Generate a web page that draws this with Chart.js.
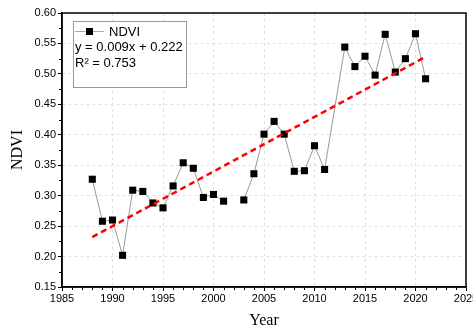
<!DOCTYPE html>
<html lang="en">
<head>
    <meta charset="UTF-8">
    <title>NDVI trend</title>
    <script src="https://cdn.jsdelivr.net/npm/chart.js"></script>
    <style>
        body { margin: 0; padding: 0; overflow: hidden; background: #fff; }
        #wrap { width: 490px; height: 329px; }
    </style>
</head>
<body>
    <div id="wrap"><canvas id="ndviChart"></canvas></div>

    <script>
        // values (2002 missing, 2012 absent)
        const years = [1988, 1989, 1990, 1991, 1992, 1993, 1994, 1995, 1996, 1997, 1998, 1999, 2000, 2001, 2002,
                       2003, 2004, 2005, 2006, 2007, 2008, 2009, 2010, 2011, 2013, 2014, 2015, 2016, 2017, 2018, 2019, 2020, 2021];
        const ndvi = [0.327, 0.258, 0.260, 0.202, 0.309, 0.307, 0.288, 0.280, 0.316, 0.354, 0.345, 0.297, 0.302, 0.291, null,
                      0.293, 0.336, 0.401, 0.422, 0.401, 0.340, 0.341, 0.382, 0.343, 0.544, 0.512, 0.529, 0.498, 0.565, 0.503, 0.525, 0.566, 0.492];
        const trendYears = [1988, 2021];
        const trendValues = [0.232, 0.528];
        const legendLines = ['y = 0.009x + 0.222', 'R\u00b2 = 0.753'];

        const serif = '"Liberation Serif", "Times New Roman", serif';
        const sans = '"Liberation Sans", Arial, sans-serif';

        const frame = {
            id: 'frame',
            afterDraw(chart) {
                const ctx = chart.ctx, a = chart.chartArea;
                const x = chart.scales.x, y = chart.scales.y;
                ctx.save();
                ctx.strokeStyle = '#000';
                ctx.lineWidth = 1.5;
                ctx.strokeRect(a.left, a.top, a.right - a.left, a.bottom - a.top);
                // minor ticks
                ctx.lineWidth = 1;
                ctx.beginPath();
                for (let yr = 1986; yr < 2025; yr++) {
                    if (yr % 5 === 0) continue;
                    const px = Math.round(x.getPixelForValue(yr)) + 0.5;
                    ctx.moveTo(px, a.bottom); ctx.lineTo(px, a.bottom + 3);
                }
                for (let v = 0.175; v < 0.6; v += 0.05) {
                    const py = Math.round(y.getPixelForValue(v)) + 0.5;
                    ctx.moveTo(a.left, py); ctx.lineTo(a.left - 3, py);
                }
                ctx.stroke();

                // legend box
                const bx = a.left + 11, by = a.top + 8, bw = 113, bh = 66;
                ctx.fillStyle = '#fff';
                ctx.fillRect(bx, by, bw, bh);
                ctx.strokeStyle = '#999';
                ctx.lineWidth = 1;
                ctx.strokeRect(bx + 0.5, by + 0.5, bw, bh);
                ctx.strokeStyle = '#aaa';
                ctx.beginPath();
                ctx.moveTo(bx + 2, by + 10.5); ctx.lineTo(bx + 31, by + 10.5);
                ctx.stroke();
                ctx.fillStyle = '#000';
                ctx.fillRect(bx + 13, by + 7, 7, 7);
                ctx.font = '13px ' + sans;
                ctx.textBaseline = 'middle';
                ctx.fillText('NDVI', bx + 36, by + 11);
                ctx.fillText(legendLines[0], bx + 2, by + 26);
                ctx.fillText(legendLines[1], bx + 2, by + 42);
                ctx.restore();
            }
        };

        const ctx = document.getElementById('ndviChart').getContext('2d');
        new Chart(ctx, {
            type: 'line',
            data: {
                datasets: [
                    {
                        label: 'NDVI',
                        data: years.map((yr, i) => ({ x: yr, y: ndvi[i] })),
                        borderColor: '#999',
                        borderWidth: 1,
                        pointStyle: 'rect',
                        pointRadius: 5,
                        pointBackgroundColor: '#000',
                        pointBorderColor: '#000',
                        pointBorderWidth: 0,
                        spanGaps: false,
                        tension: 0,
                        order: 2
                    },
                    {
                        label: 'Linear fit',
                        data: trendYears.map((yr, i) => ({ x: yr, y: trendValues[i] })),
                        borderColor: '#ff0000',
                        borderWidth: 2.5,
                        borderDash: [6, 4],
                        pointRadius: 0,
                        order: 1
                    }
                ]
            },
            options: {
                responsive: true,
                maintainAspectRatio: false,
                animation: false,
                layout: { padding: { top: 13, right: 24, left: 0, bottom: 0 } },
                plugins: { legend: { display: false }, tooltip: { enabled: false } },
                scales: {
                    x: {
                        type: 'linear',
                        min: 1985, max: 2025,
                        ticks: { stepSize: 5, color: '#000', font: { family: sans, size: 11 }, padding: 1, maxRotation: 0,
                                 callback: v => String(v) },
                        grid: { color: '#e0e0e0', tickColor: '#000', tickLength: 4, drawTicks: true },
                        border: { display: true, color: '#000', width: 1.5, dash: [3, 3] },
                        title: { display: true, text: 'Year', font: { family: serif, size: 16, lineHeight: 1 }, color: '#000', padding: 0 },
                        afterFit: s => { s.height = 42; }
                    },
                    y: {
                        min: 0.15, max: 0.60,
                        ticks: { stepSize: 0.05, color: '#000', font: { family: sans, size: 11 }, padding: 2,
                                 callback: v => v.toFixed(2) },
                        grid: { color: '#e0e0e0', tickColor: '#000', tickLength: 4 },
                        border: { display: true, color: '#000', width: 1.5, dash: [3, 3] },
                        title: { display: true, text: 'NDVI', font: { family: serif, size: 16, lineHeight: 1.2 }, color: '#000', padding: { top: 8, bottom: 0 } },
                        afterFit: s => { s.width = 62; }
                    }
                }
            },
            plugins: [frame]
        });
    </script>
</body>
</html>
